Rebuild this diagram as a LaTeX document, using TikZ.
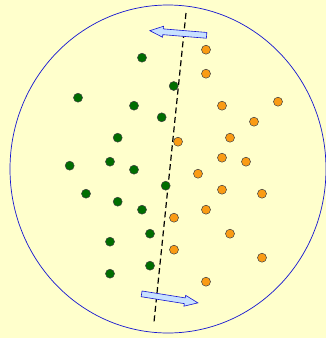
\documentclass[tikz,border=0pt]{standalone}
\usepackage{tikz}
\usetikzlibrary{calc,shapes.arrows,positioning}
\definecolor{PageYellow}{RGB}{255, 255, 204}
\definecolor{RimBlue}{RGB}{20, 20, 210}
\definecolor{ArrowFill}{RGB}{200, 225, 255}
\definecolor{DotGreen}{RGB}{0, 110, 0}
\definecolor{DotOrange}{RGB}{250, 155, 20}

\begin{document}
\begin{tikzpicture}[x=1pt, y=-1pt,
  dot/.style={circle, draw=black!75, line width=0.5pt, inner sep=0pt, minimum size=9pt},
  gdot/.style={dot, fill=DotGreen},
  odot/.style={dot, fill=DotOrange},
  push/.style={single arrow, draw=RimBlue, line width=0.6pt, fill=ArrowFill,
               inner xsep=0pt, inner ysep=2.6pt, single arrow head extend=2.6pt,
               single arrow tip angle=45, minimum height=57pt},
  split/.style={line width=1.2pt, dash pattern=on 6pt off 3.5pt}]
  \useasboundingbox (0,0) rectangle (326,338);
  \fill[PageYellow] (0,0) rectangle (326,338);
  % the dish
  \draw[RimBlue, line width=0.7pt] (168,169) ellipse [x radius=158pt, y radius=164pt];
  % separating line
  \coordinate (top) at (186,13);
  \coordinate (bot) at (154,322);
  \draw[split] (top) -- (bot);
  % green class
  \foreach \x/\y [count=\i] in {142/57.7, 173.7/86, 78/97.7, 134/105.7, 161.7/117.3,
      117.7/137.7, 69.7/165.7, 110/161.7, 134/169.7, 165.7/185.7, 86/193.7,
      117.7/201.7, 142/209.7, 150/233.7, 110/241.7, 150/265.7, 110/273.7}
    \node[gdot] (g\i) at (\x,\y) {};
  % orange class
  \foreach \x/\y [count=\i] in {206/49.7, 206/73.7, 222/105.7, 278/101.7, 254/121.7,
      230/137.7, 178/141.7, 222/157.7, 246/161.7, 198/173.7, 222/189.7, 262/193.7,
      206/209.7, 174/217.7, 230/233.7, 174/249.7, 262/257.7, 206/281.7}
    \node[odot] (o\i) at (\x,\y) {};
  % margin arrows
  \node[push, rotate=175.3] (pushup) at (181.7,33.3) {};
  \node[push, rotate=-9.1] (pushdown) at (166.3,297.8) {};
\end{tikzpicture}
\end{document}
